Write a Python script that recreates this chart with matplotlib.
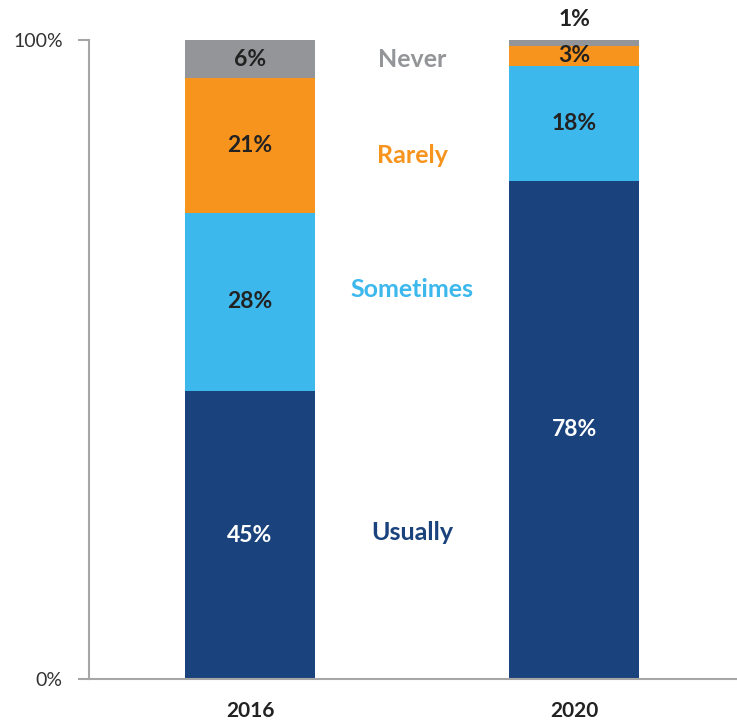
import matplotlib
matplotlib.use("Agg")
from matplotlib import pyplot as plt

# data
years = ["2016", "2020"]
categories = ["Usually", "Sometimes", "Rarely", "Never"]
usually = [45, 78]
sometimes = [28, 18]
rarely = [21, 3]
never = [6, 1]

series = [usually, sometimes, rarely, never]
colors = ["#1A427C", "#3DB8EC", "#F7941E", "#939598"]
text_colors = ["white", "#222222", "#222222", "#222222"]
# where the category names sit, in percent
name_y = [23, 61, 82, 97]

plt.rcParams["font.family"] = ["Lato", "DejaVu Sans"]

fig = plt.figure(figsize=(7.37, 7.21), dpi=100)
ax = fig.add_axes([89 / 737, 42 / 721, 648 / 737, 639 / 721])

x = range(len(years))
bottom = [0, 0]
for vals, col, tcol in zip(series, colors, text_colors):
    ax.bar(x, vals, width=0.4, bottom=bottom, color=col, linewidth=0)
    for i, v in enumerate(vals):
        if v >= 3:
            y = bottom[i] + v / 2
        else:
            y = bottom[i] + v + 3.2
        ax.text(i, y, f"{v}%", ha="center", va="center", fontsize=16.5,
                fontweight="bold", color=tcol)
    bottom = [b + v for b, v in zip(bottom, vals)]

for name, col, y in zip(categories, colors, name_y):
    ax.text(0.5, y, name, ha="center", va="center", fontsize=18,
            fontweight="bold", color=col)

ax.set_xlim(-0.497, 1.503)
ax.set_ylim(0, 100)
ax.set_yticks([0, 100])
ax.set_yticklabels(["0%", "100%"], fontsize=14, color="#333333")
ax.set_xticks(list(x))
ax.set_xticklabels(years, fontsize=15, fontweight="bold", color="#222222")
ax.tick_params(axis="x", length=0, pad=16)
ax.tick_params(axis="y", length=8, width=1.5, color="#A6A6A6", pad=11)

for s in ["top", "right"]:
    ax.spines[s].set_visible(False)
for s in ["left", "bottom"]:
    ax.spines[s].set_color("#A6A6A6")
    ax.spines[s].set_linewidth(1.5)

fig.savefig("out.png", dpi=100)
